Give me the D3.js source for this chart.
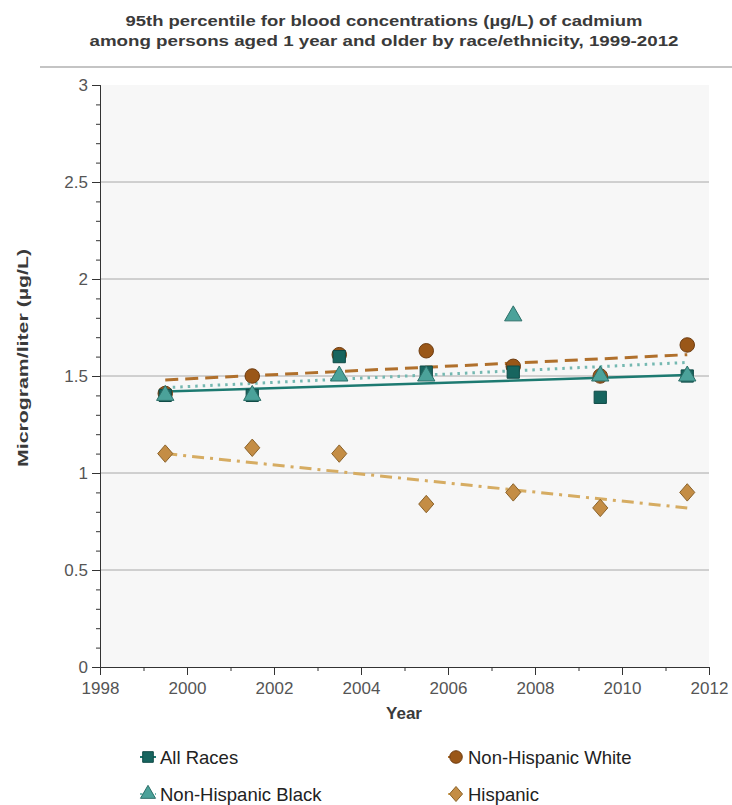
<!DOCTYPE html>
<html><head><meta charset="utf-8">
<script src="https://cdn.jsdelivr.net/npm/d3@7/dist/d3.min.js"></script>
<style>body{margin:0;background:#fff;font-family:"Liberation Sans",Arial,sans-serif;}</style>
</head><body><svg id="c" width="732" height="805"></svg>
<script>
const years = [1999.5, 2001.5, 2003.5, 2005.5, 2007.5, 2009.5, 2011.5];
const allRaces = [1.40, 1.40, 1.60, 1.52, 1.52, 1.39, 1.50];
const nhWhite = [1.41, 1.50, 1.61, 1.63, 1.55, 1.50, 1.66];
const nhBlack = [1.40, 1.40, 1.50, 1.50, 1.81, 1.50, 1.50];
const hispanic = [1.10, 1.13, 1.10, 0.84, 0.90, 0.82, 0.90];
// trend lines (value at first year, value at last year)
const trendAll = [1.42, 1.505];
const trendWhite = [1.48, 1.61];
const trendBlack = [1.44, 1.57];
const trendHisp = [1.10, 0.82];
const xTicks = [1998, 2000, 2002, 2004, 2006, 2008, 2010, 2012];
const yTicks = [0, 0.5, 1, 1.5, 2, 2.5, 3];
const titleLines = ["95th percentile for blood concentrations (µg/L) of cadmium",
                    "among persons aged 1 year and older by race/ethnicity, 1999-2012"];

const diamond = {draw(ctx, size){ const w=Math.sqrt(size)*0.52, h=Math.sqrt(size)*0.6;
  ctx.moveTo(0,-h); ctx.lineTo(w,0); ctx.lineTo(0,h); ctx.lineTo(-w,0); ctx.closePath(); }};

const series = [
  {name:"All Races", vals:allRaces, trend:trendAll, shape:d3.symbolSquare, size:150, fill:"#17655f", stroke:"#0f4a46", line:"#1d7a71", dash:null, lw:2.5},
  {name:"Non-Hispanic White", vals:nhWhite, trend:trendWhite, shape:d3.symbolCircle, size:165, fill:"#9a5718", stroke:"#6e3c10", line:"#b0702c", dash:"13,7", lw:3},
  {name:"Non-Hispanic Black", vals:nhBlack, trend:trendBlack, shape:d3.symbolTriangle, size:130, fill:"#4ba29a", stroke:"#2d6f69", line:"#74b8b1", dash:"2.5,5", lw:3},
  {name:"Hispanic", vals:hispanic, trend:trendHisp, shape:diamond, size:210, fill:"#c48d45", stroke:"#8a6128", line:"#d6ac62", dash:"12,6,3,6", lw:3}
];

const svg = d3.select("#c");
const L=100, R=709, T=85, B=667;
const x = d3.scaleLinear().domain([1998,2012]).range([L,R]);
const y = d3.scaleLinear().domain([0,3]).range([B,T]);

// title
const tw=[517,589], ty=[26,46];
titleLines.forEach((t,i)=>{
  svg.append("text").attr("x",384).attr("y",ty[i]).attr("text-anchor","middle").attr("font-size",15.5).attr("font-weight","bold").attr("fill","#3a3a3a")
    .attr("textLength",tw[i]).attr("lengthAdjust","spacingAndGlyphs").text(t);
});
svg.append("line").attr("x1",40).attr("x2",732).attr("y1",67).attr("y2",67).attr("stroke","#c4c4c4").attr("stroke-width",2);

// plot bg
svg.append("rect").attr("x",L).attr("y",T).attr("width",R-L).attr("height",B-T).attr("fill","#f7f7f7");
// grid
svg.append("g").selectAll("line").data(yTicks.filter(d=>d>0&&d<3)).join("line")
  .attr("x1",L).attr("x2",R).attr("y1",d=>y(d)).attr("y2",d=>y(d)).attr("stroke","#a8a8a8").attr("stroke-width",1);

// axes
svg.append("g").attr("transform",`translate(${L},0)`)
  .call(d3.axisLeft(y).tickValues(yTicks).tickFormat(d3.format("")).tickSize(8).tickPadding(4));
svg.append("g").attr("transform",`translate(${L},0)`)
  .call(d3.axisLeft(y).tickValues(d3.range(0,3.001,0.1)).tickFormat("").tickSize(4));
svg.append("g").attr("transform",`translate(0,${B})`)
  .call(d3.axisBottom(x).tickValues(xTicks).tickFormat(d3.format("d")).tickSize(8).tickPadding(7));
svg.append("g").attr("transform",`translate(0,${B})`)
  .call(d3.axisBottom(x).tickValues(d3.range(1998,2013,1)).tickFormat("").tickSize(4));
svg.selectAll(".domain").attr("stroke","#333");
svg.selectAll(".tick line").attr("stroke","#333");
svg.selectAll(".tick text").attr("font-size",17).attr("fill","#555").attr("font-family","Liberation Sans, Arial, sans-serif");

svg.append("text").attr("x",404).attr("y",719).attr("text-anchor","middle").attr("font-size",17).attr("font-weight","bold").attr("fill","#3a3a3a").text("Year");
svg.append("text").attr("transform","translate(28,358) rotate(-90)").attr("text-anchor","middle").attr("font-size",15.5).attr("font-weight","bold").attr("fill","#3a3a3a")
  .attr("textLength",218).attr("lengthAdjust","spacingAndGlyphs").text("Microgram/liter (µg/L)");

// trend lines
const first = years[0], last = years[years.length-1];
series.forEach(s=>{
  svg.append("line").attr("x1",x(first)).attr("x2",x(last)).attr("y1",y(s.trend[0])).attr("y2",y(s.trend[1]))
    .attr("stroke",s.line).attr("stroke-width",s.lw).attr("stroke-dasharray",s.dash);
});
// markers
const order=[3,1,0,2];
order.forEach(i=>{
  const s=series[i];
  svg.append("g").selectAll("path").data(s.vals).join("path")
    .attr("transform",(d,j)=>`translate(${x(years[j])},${y(d)})`)
    .attr("d",d3.symbol().type(s.shape).size(s.size))
    .attr("fill",s.fill).attr("stroke",s.stroke).attr("stroke-width",1);
});

// legend
const leg=[{s:series[0],x:148,y:757},{s:series[1],x:456,y:757},{s:series[2],x:148,y:794},{s:series[3],x:456,y:794}];
leg.forEach(l=>{
  const g=svg.append("g").attr("transform",`translate(${l.x},${l.y})`);
  g.append("line").attr("x1",-8).attr("x2",8).attr("y1",0).attr("y2",0).attr("stroke",l.s.line).attr("stroke-width",2).attr("stroke-dasharray",l.s.dash);
  g.append("path").attr("d",d3.symbol().type(l.s.shape).size(l.s.size*0.75)).attr("fill",l.s.fill).attr("stroke",l.s.stroke).attr("stroke-width",1);
  g.append("text").attr("x",12).attr("y",7).attr("font-size",18.5).attr("fill","#222").text(l.s.name);
});
</script></body></html>
